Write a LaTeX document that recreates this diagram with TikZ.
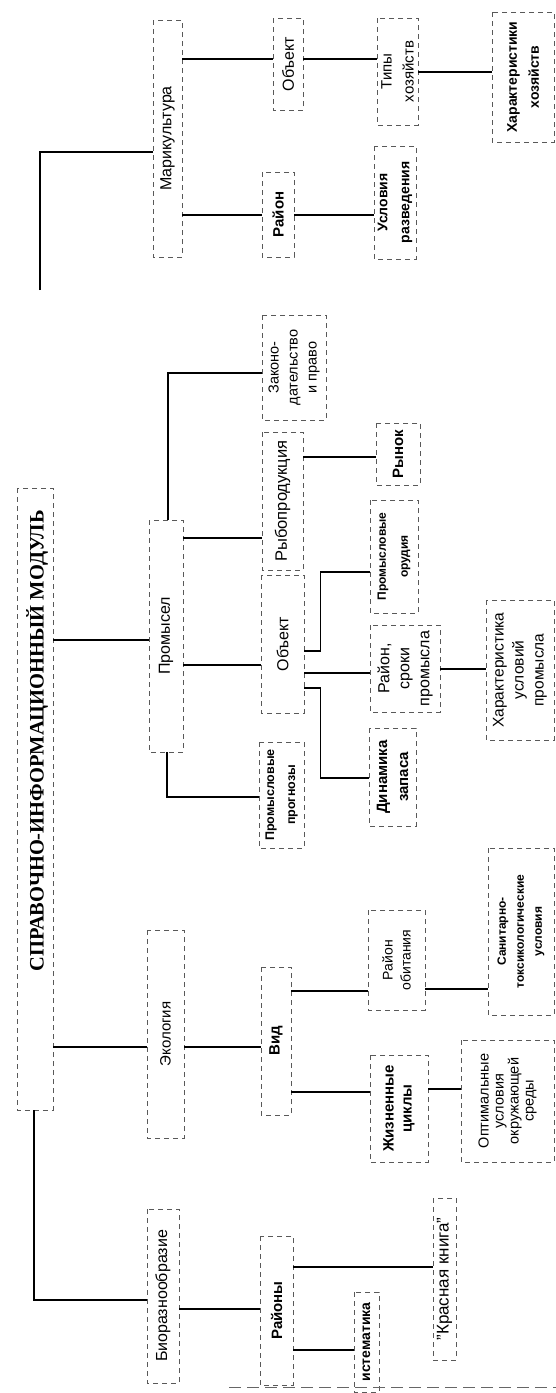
\documentclass[tikz,border=0pt]{standalone}
\usepackage{fontspec}
\setmainfont{Liberation Serif}
\setsansfont{Liberation Sans}
\newcommand{\fs}[2]{\fontsize{#1}{#2}\selectfont}

\tikzset{
  blk/.style={draw=black!65, dash pattern=on 5pt off 4pt, line width=0.6pt,
    rotate=90, inner sep=0pt, align=center, font=\sffamily\fs{16}{18}},
  bblk/.style={blk, font=\sffamily\bfseries\fs{14}{20}},
  link/.style={line width=1.2pt, black}
}

\begin{document}
\begin{tikzpicture}[x=1pt, y=-1pt]
\useasboundingbox (0,0) rectangle (556,1393);

% root
\node[blk, minimum width=622, minimum height=36] (root) at (35,799) {};
\node[rotate=90, inner sep=0pt, font=\rmfamily\bfseries\fs{20.5}{24}] (title) at (37,741) {СПРАВОЧНО-ИНФОРМАЦИОННЫЙ МОДУЛЬ};

% marikultura branch
\node[blk, minimum width=237, minimum height=29] (mar) at (167.5,138.5) {Марикультура};
\node[blk, minimum width=92, minimum height=30] (mobj) at (288,64) {Объект};
\node[blk, minimum width=107, minimum height=41, font=\sffamily\fs{15}{22}] (types) at (397.5,71.5) {Типы\\хозяйств};
\node[bblk, minimum width=130, minimum height=62, font=\sffamily\bfseries\fs{14}{22}] (fchar) at (523,77) {Характеристики\\хозяйств};
\node[bblk, minimum width=85, minimum height=32, font=\sffamily\bfseries\fs{15}{18}] (mreg) at (278,214.5) {Район};
\node[bblk, minimum width=113, minimum height=42, font=\sffamily\bfseries\fs{14}{22}] (breed) at (395,202.5) {Условия\\разведения};

% promysel branch
\node[blk, minimum width=232, minimum height=34] (fish) at (166,636) {Промысел};
\node[blk, minimum width=105, minimum height=64, font=\sffamily\fs{14.5}{19}] (law) at (294,367.5) {Законо-\\дательство\\и право};
\node[blk, minimum width=138, minimum height=41, font=\sffamily\fs{16.5}{18}] (prod) at (282.5,501) {Рыбопродукция};
\node[bblk, minimum width=62, minimum height=44, font=\sffamily\bfseries\fs{15}{18}] (market) at (398,454) {Рынок};
\node[blk, minimum width=138, minimum height=43] (fobj) at (282.5,644) {Объект};
\node[bblk, minimum width=106, minimum height=45, font=\sffamily\bfseries\fs{12.5}{21}] (fcast) at (281.5,795) {Промысловые\\прогнозы};
\node[bblk, minimum width=113, minimum height=48, font=\sffamily\bfseries\fs{12}{22}] (gear) at (394,556.5) {Промысловые\\орудия};
\node[blk, minimum width=87, minimum height=70, font=\sffamily\fs{16}{20}] (area) at (405,668.5) {Район,\\сроки\\промысла};
\node[blk, minimum width=140, minimum height=68, font=\sffamily\fs{15.5}{20}] (fcond) at (520,670) {Характеристика\\условий\\промысла};
\node[bblk, minimum width=98, minimum height=47, font=\sffamily\bfseries\fs{15}{21}] (stock) at (392.5,777) {Динамика\\запаса};

% ecology branch
\node[blk, minimum width=208, minimum height=37, font=\sffamily\fs{15}{18}] (eco) at (165.5,1034) {Экология};
\node[bblk, minimum width=148, minimum height=30, font=\sffamily\bfseries\fs{15}{18}] (spec) at (276,1041) {Вид};
\node[blk, minimum width=100, minimum height=57, font=\sffamily\fs{14}{18}] (habit) at (396.5,960) {Район\\обитания};
\node[bblk, minimum width=167, minimum height=66, font=\sffamily\bfseries\fs{12}{18}] (sanit) at (521,931.5) {Санитарно-\\токсикологические\\условия};
\node[bblk, minimum width=107, minimum height=58, font=\sffamily\bfseries\fs{15}{18}] (life) at (399,1108.5) {Жизненные\\циклы};
\node[blk, minimum width=122, minimum height=93, font=\sffamily\fs{14.5}{15}] (optim) at (507.5,1101) {Оптимальные\\условия\\окружающей\\среды};

% biodiversity branch
\node[blk, minimum width=174, minimum height=32] (bio) at (163,1296) {Биоразнообразие};
\node[bblk, minimum width=149, minimum height=33, font=\sffamily\bfseries\fs{15}{18}] (regs) at (276.5,1310.5) {Районы};
\node[blk, minimum width=162, minimum height=23, font=\sffamily\fs{17}{18}] (redbook) at (444.5,1279) {"Красная книга"};
\node[bblk, minimum width=100, minimum height=25] (syst) at (366.5,1342) {истематика};

% connectors
\coordinate (rtop) at (40,290);
\draw[link] (rtop) |- (mar.north |- 0,152);
\draw[link] (root.south |- 0,640) -- (fish.north |- 0,640);
\draw[link] (root.south |- 0,1047) -- (eco.north |- 0,1047);
\draw[link] (root.west -| 34,0) |- (bio.north |- 0,1300);

\draw[link] (mar.south |- 0,59) -- (mobj.north |- 0,59);
\draw[link] (mar.south |- 0,215) -- (mreg.north |- 0,215);
\draw[link] (mobj.south |- 0,59) -- (types.north |- 0,59);
\draw[link] (types.south |- 0,72) -- (fchar.north |- 0,72);
\draw[link] (mreg.south |- 0,215) -- (breed.north |- 0,215);

\draw[link] (fish.east -| 168,0) |- (law.north |- 0,373);
\draw[link] (fish.south |- 0,538) -- (prod.north |- 0,538);
\draw[link] (fish.south |- 0,665) -- (fobj.north |- 0,665);
\draw[link] (fish.west -| 167,0) |- (fcast.north |- 0,797);
\draw[link] (prod.south |- 0,457) -- (market.north |- 0,457);
\draw[link] (fobj.south |- 0,651) -- ++(16,0) |- (gear.north |- 0,572);
\draw[link] (fobj.south |- 0,673) -- (area.north |- 0,673);
\draw[link] (fobj.south |- 0,688) -- ++(16,0) |- (stock.north |- 0,778);
\draw[link] (area.south |- 0,669) -- (fcond.north |- 0,669);

\draw[link] (eco.south |- 0,1047) -- (spec.north |- 0,1047);
\draw[link] (spec.south |- 0,991) -- (habit.north |- 0,991);
\draw[link] (spec.south |- 0,1092) -- (life.north |- 0,1092);
\draw[link] (habit.south |- 0,989) -- (sanit.north |- 0,989);
\draw[link] (life.south |- 0,1089) -- (optim.north |- 0,1089);

\draw[link] (bio.south |- 0,1309) -- (regs.north |- 0,1309);
\draw[link] (regs.south |- 0,1267) -- (redbook.north |- 0,1267);
\draw[link] (regs.south |- 0,1350) -- (syst.north |- 0,1350);

\draw[black!60, dash pattern=on 12pt off 6pt, line width=0.8pt] (229,1387) -- (556,1387);
\end{tikzpicture}
\end{document}
